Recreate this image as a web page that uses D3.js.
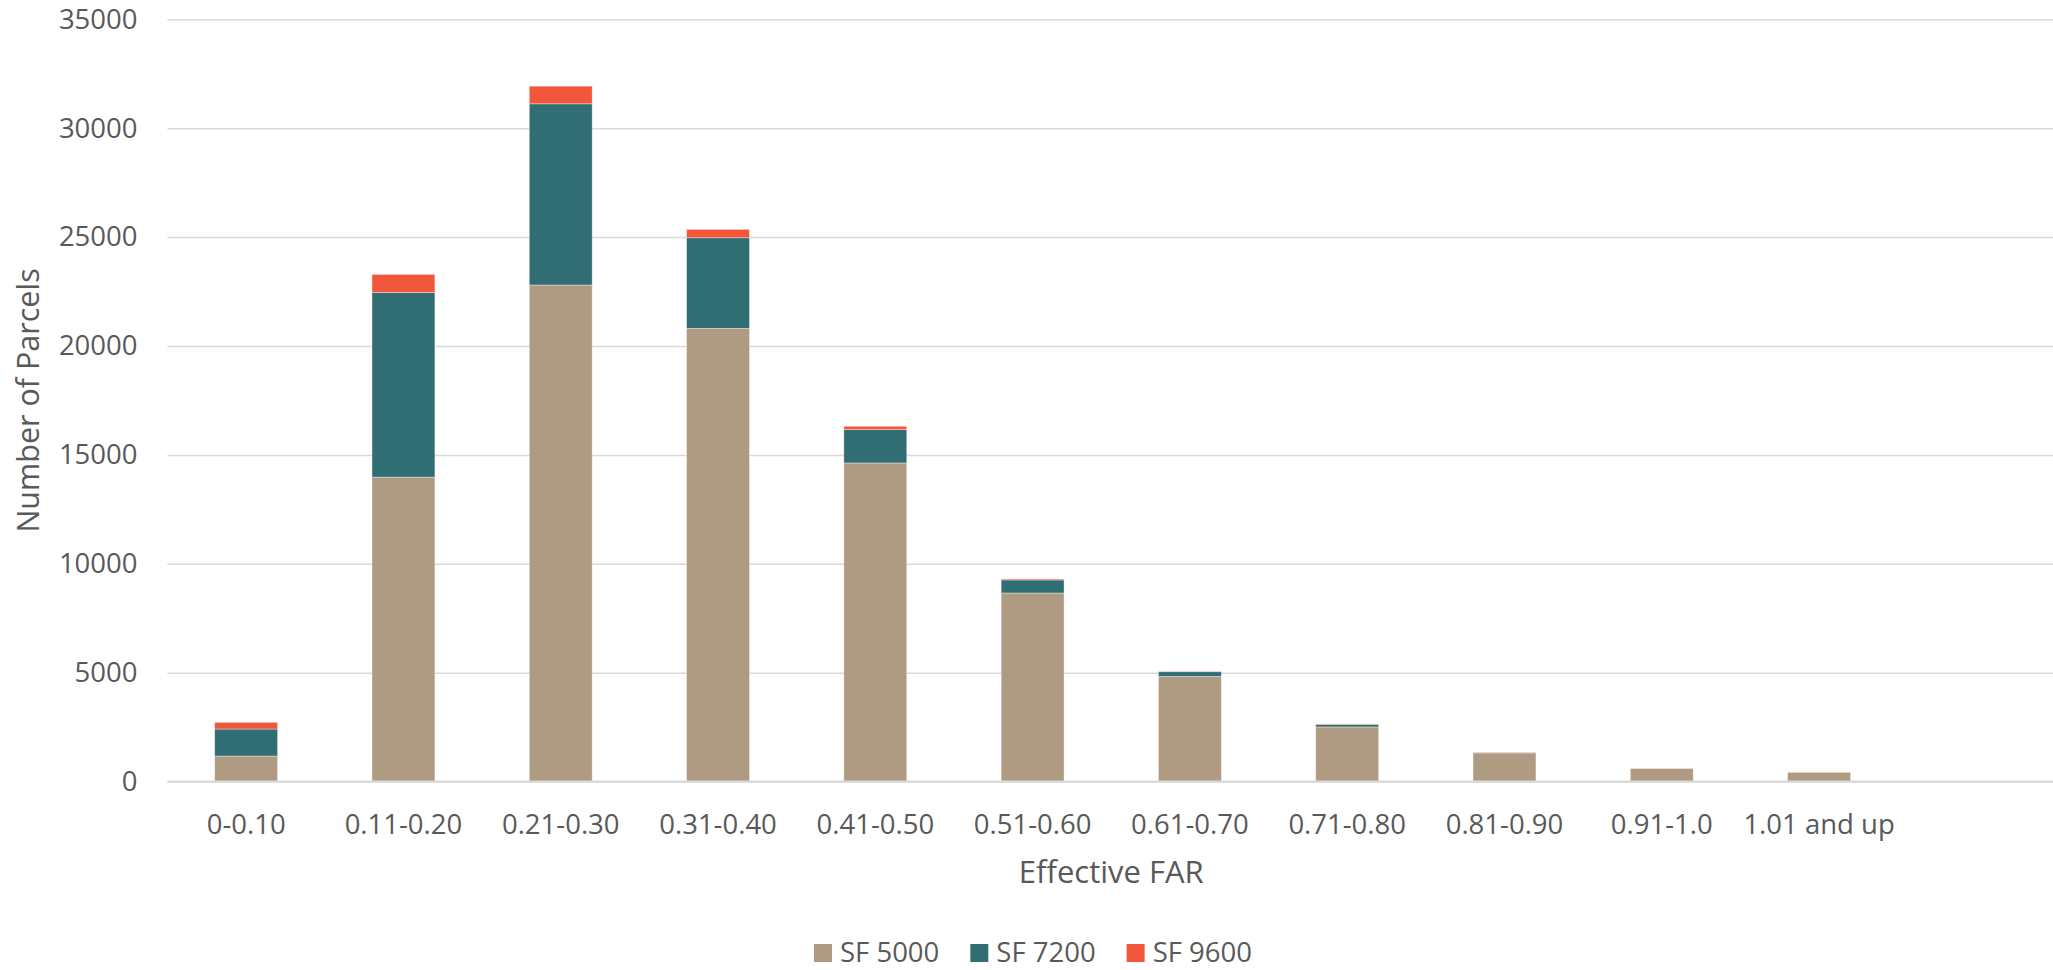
<!DOCTYPE html>
<html>
<head>
<meta charset="utf-8">
<script src="https://cdn.jsdelivr.net/npm/d3@7"></script>
<style>
  html, body { margin: 0; padding: 0; background: #fff; }
  svg { display: block; }
  text { font-family: "Open Sans", "Noto Sans", sans-serif; fill: #595959; }
</style>
</head>
<body>
<svg id="chart" width="2053" height="970"></svg>
<script>
// ---- data ----
const categories = ["0-0.10", "0.11-0.20", "0.21-0.30", "0.31-0.40", "0.41-0.50", "0.51-0.60", "0.61-0.70", "0.71-0.80", "0.81-0.90", "0.91-1.0", "1.01 and up"];
const seriesNames = ["SF 5000", "SF 7200", "SF 9600"];
const sf5000 = [1175, 13980, 22800, 20810, 14630, 8660, 4830, 2510, 1320, 600, 430];
const sf7200 = [1240, 8480, 8320, 4160, 1530, 600, 215, 110, 20, 5, 3];
const sf9600 = [307, 827, 810, 385, 155, 45, 20, 25, 10, 10, 10];
const yTicks = [0, 5000, 10000, 15000, 20000, 25000, 30000, 35000];
const colors = ["#AF9B82", "#316E73", "#F2573B"];

// ---- layout ----
const svg = d3.select("#chart");
const plotLeft = 167.5, plotRight = 2055, plotTop = 19.3, plotBottom = 781.6;
const FONT = '"Open Sans", "Noto Sans", sans-serif';

const rows = categories.map((c, i) => ({ cat: c, "SF 5000": sf5000[i], "SF 7200": sf7200[i], "SF 9600": sf9600[i] }));
const stack = d3.stack().keys(seriesNames)(rows);

const x = d3.scaleBand()
  .domain(categories.concat([" "]))
  .range([plotLeft, plotRight])
  .paddingInner(0.6)
  .paddingOuter(0.3);

const y = d3.scaleLinear().domain([0, 35000]).range([plotBottom, plotTop]);

// gridlines + y tick labels
const yAxis = d3.axisLeft(y).tickValues(yTicks).tickSize(-(plotRight - plotLeft)).tickPadding(30).tickFormat(d3.format("d"));
const gy = svg.append("g").attr("transform", `translate(${plotLeft},0)`).call(yAxis);
gy.select(".domain").remove();
gy.selectAll(".tick line").attr("stroke", "#D9D9D9").attr("stroke-width", 1.5);
gy.selectAll(".tick text").attr("font-size", 27.5).attr("fill", "#595959").style("font-family", FONT);

// bars
svg.append("g").selectAll("g").data(stack).join("g")
  .attr("fill", (d, i) => colors[i])
  .selectAll("rect").data(d => d).join("rect")
  .attr("x", d => x(d.data.cat))
  .attr("width", x.bandwidth())
  .attr("y", d => y(d[1]))
  .attr("height", d => Math.max(0, y(d[0]) - y(d[1])))
  .attr("stroke", "#ffffff").attr("stroke-width", 0.75).attr("stroke-opacity", 0.5);

// x axis
const xAxis = d3.axisBottom(x).tickSize(0).tickPadding(33).tickFormat(d => d.trim());
const gx = svg.append("g").attr("transform", `translate(0,${plotBottom})`).call(xAxis);
gx.select(".domain").attr("stroke", "#D9D9D9").attr("stroke-width", 2)
  .attr("d", `M${plotLeft},0H${plotRight}`);
gx.selectAll(".tick text").attr("font-size", 27.5).attr("fill", "#595959").style("font-family", FONT);

// axis titles
svg.append("text")
  .attr("x", (plotLeft + plotRight) / 2).attr("y", 883)
  .attr("text-anchor", "middle").attr("font-size", 31)
  .text("Effective FAR");

svg.append("text")
  .attr("transform", `translate(39,${(plotTop + plotBottom) / 2}) rotate(-90)`)
  .attr("text-anchor", "middle").attr("font-size", 30.5)
  .text("Number of Parcels");

// legend
const legend = svg.append("g");
let lx = 814;
seriesNames.forEach((name, i) => {
  const g = legend.append("g").attr("transform", `translate(${lx},0)`);
  g.append("rect").attr("x", 0).attr("y", 944).attr("width", 18).attr("height", 18).attr("fill", colors[i]);
  const t = g.append("text").attr("x", 26).attr("y", 961.5).attr("font-size", 27.5).text(name);
  const w = t.node().getComputedTextLength();
  lx += 26 + w + 31;
});
</script>
</body>
</html>
